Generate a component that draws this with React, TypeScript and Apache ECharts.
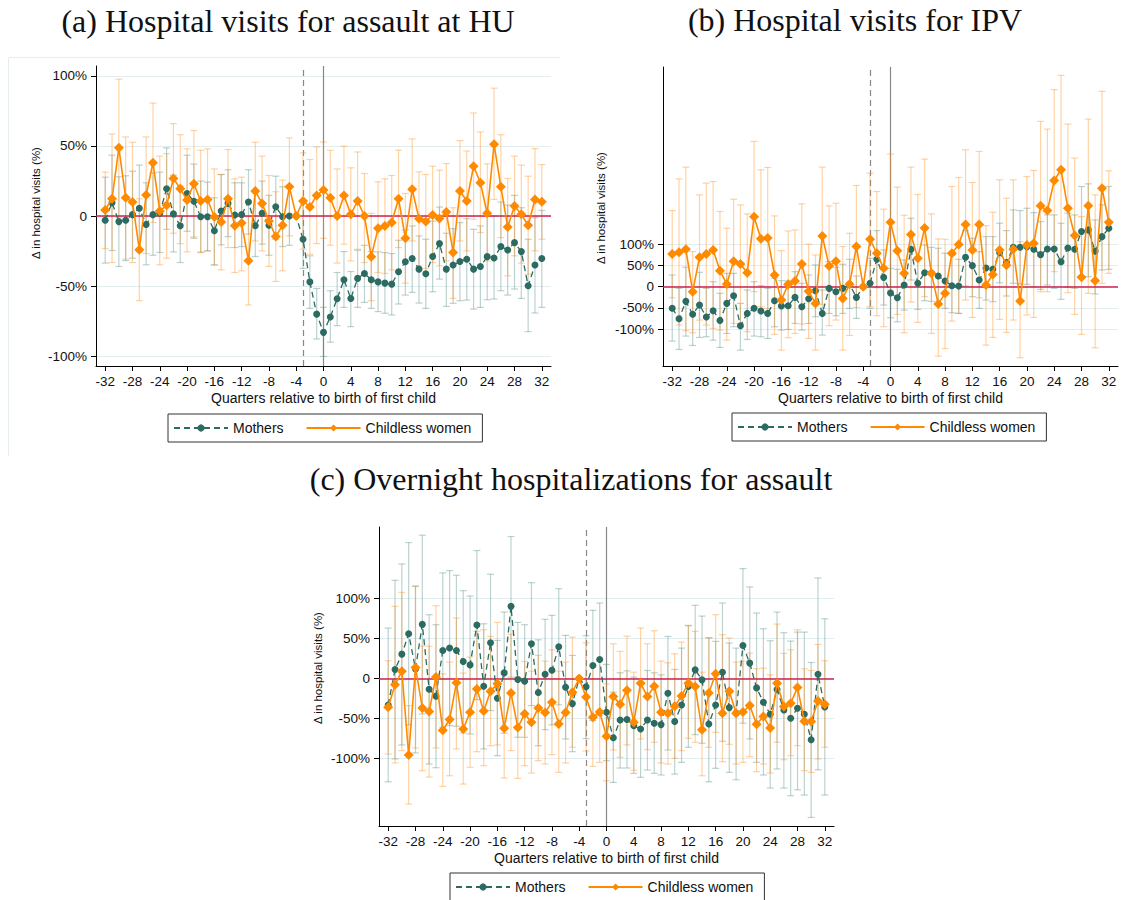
import { useEffect, useRef } from "react";
import * as echarts from "echarts";

const QUARTERS = Array.from({ length: 65 }, (_, i) => i - 32);
const X_TICKS = [-32, -28, -24, -20, -16, -12, -8, -4, 0, 4, 8, 12, 16, 20, 24, 28, 32];
const Y_TICKS = [-100, -50, 0, 50, 100];
const SERIES_NAMES = ["Mothers", "Childless women"];

// (a) Hospital visits for assault at HU
const A_MOTHERS = [-3, 9.5, -4, -3, 1, 5.5, -6, 1, 2, 19.5, 1.5, -7, 16, 10.5, -0.5, -0.5, -10.5, 3.5, 9, 0.7, 1, 10, -7, 2, -6.6, 6.6, -0.5, 0, 0, -16.6, -47, -70, -83, -72, -59, -45.5, -58.8, -44.5, -41, -45.5, -47, -47.9, -48.6, -39.8, -32.7, -30.3, -37.9, -41.2, -28.9, -19.7, -37.9, -35, -32.5, -30.8, -37.9, -36, -29, -30, -21.8, -24.2, -19, -25.4, -49.8, -35, -30.3];
const A_MOTHERS_HI = [27.7, 43.4, 28, 28.7, 32, 36.3, 23.7, 30.8, 31.3, 48.6, 29.1, 21.3, 43.4, 37, 24.9, 24.2, 13, 29.6, 33, 23.7, 23.7, 33, 16.6, 24.9, 14.7, 28.4, 20.9, 21.3, null, 9.5, -28.4, -51.7, -65.2, -53.3, -40.3, -25.4, -39.6, -24.4, -20.9, -25.4, -25.6, -26.1, -26.8, -17.3, -10, -7.1, -14.2, -16.6, -3.6, 6.4, -12.3, -9, -4.7, -1.9, -9.5, -7.1, 1.2, 0, 10, 7.8, 14.7, 5.9, -16.6, -1.2, 4];
const A_MOTHERS_LO = [-33.6, -24.6, -36, -31.8, -30.1, -25.6, -34.8, -28, -26, -9.5, -25.6, -33.2, -10.9, -15.9, -25.8, -24.9, -34.8, -20.6, -14.7, -22.5, -21.8, -13, -28.9, -20.1, -28, -16.6, -21.8, -20.9, null, -37.4, -65.9, -87.7, -100.2, -90, -78.2, -65.2, -78.9, -65.2, -61.6, -65.9, -68.2, -69.4, -70.6, -62.8, -56.4, -54.5, -62.1, -65.9, -54, -45, -64.5, -62.3, -60.4, -60, -66.4, -65.2, -59.7, -59.2, -53.3, -56.4, -52.1, -58.8, -82.5, -69.2, -65.2];
const A_CHILDLESS = [4.3, 12.3, 48.6, 13, 10, -24, 15, 38, 3.5, 7.6, 26.8, 19.4, 11.4, 23, 10.7, 11.8, -0.7, -4.3, 12.3, -7, -5, -32, 17.8, 9, -3.5, -14.7, -6.6, 20.8, 0, 10.7, 6.4, 14.7, 18.5, 13, 0, 14.7, 1.2, 10.7, 0, -29, -8.8, -7.1, -4.7, 12.3, -15.9, 19, -1.9, -4, 0.7, -1.7, 2.8, -26, 17.8, 10.7, 35.5, 23.7, 1.9, 51.2, 20.9, -7.8, 7.1, 1.2, -6.6, 11.8, 10.2];
const A_CHILDLESS_HI = [31.3, 58.5, 97.6, 56.4, 52.6, 12.3, 56.4, 80.6, 42.7, 44.5, 65.9, 58, 47.9, 60.9, 46.9, 47.9, 33.6, 29.6, 47.4, 26.5, 27.7, -0.5, 52.6, 42.7, 28.9, 17.3, 25.6, 55.7, null, 45, 40.3, 49.3, 52.8, 46.9, 33.6, 49.8, 34.4, 45.7, 30.3, 1.9, 24.4, 26.5, 28.9, 46.9, 16.1, 55, 31.5, 29.6, 35.5, 32.7, 37.4, 5.9, 53.8, 46.4, 73.5, 60, 37.2, 91.2, 58, 26.8, 42.7, 36.3, 28.4, 48.1, 36.7];
const A_CHILDLESS_LO = [-23.2, -33.2, -1, -30.8, -33.2, -60.4, -26.8, -4.6, -34.8, -30.1, -12.3, -19.7, -25.6, -14.9, -26.1, -24.9, -35.1, -38.4, -22.5, -40.3, -39.1, -63.5, -17.8, -24.9, -36, -46.7, -39.1, -14.2, null, -23.7, -27.3, -19.7, -15.9, -20.9, -33.6, -20.1, -32, -23.7, -33.2, -60.4, -40.3, -41, -38.4, -22.5, -47.9, -17.8, -35.5, -37.4, -33.2, -35.5, -32, -58.8, -17.8, -24.9, -2.4, -11.8, -32, 11.8, -15.4, -42.7, -28.4, -33.6, -41.5, -24.9, -16.6];

// (b) Hospital visits for IPV
const B_MOTHERS = [-51, -75.6, -34.6, -65, -43, -71.6, -56.7, -79.5, -39.4, -21.3, -92, -63, -51, -57.5, -63, -33, -45.7, -44.9, -25.2, -47.2, -28.3, -9.4, -63, -3.9, -11.8, -3.9, 5.5, -25.2, 0, 7.9, 64.6, 22, -15, -26, 3.9, 88, 7.9, 33, 31.5, 25.2, 13.4, 2.4, 1.6, 69.3, 49.6, 15.7, 44, 41, 80.3, 56.7, 92.9, 92.9, 94.5, 88.2, 75.6, 89, 89, 59, 91.3, 88.2, 130, 133.9, 83.5, 118, 137.8];
const B_MOTHERS_HI = [27.6, -3.9, 45.7, -15.7, 33.9, -3.9, 11.8, -15.7, 31.5, 31.5, -39.4, -7.9, 11.8, 2.4, -3.9, 19.7, 14.2, 13.4, 35.4, 7.9, 27.6, 51.2, -7.9, 59, 45.7, 52.8, 64.6, 25.2, null, 66.9, 132.3, 86.6, 43.3, 40.9, 63, 161.4, 69.3, 98.4, 92.9, 90.6, 78.7, 74.8, 64.6, 132.3, 114.2, 82.7, 118.1, 118.1, 149.6, 132.3, 181.1, 179.5, 185, 174.8, 153.5, 169.3, 169.3, 149.6, 173.2, 169.3, 236.2, 242.5, 157.5, 192.9, 236.2];
const B_MOTHERS_LO = [-128.3, -148, -116.5, -138.6, -119.7, -118.1, -126, -143.3, -110.2, -94.5, -149.6, -124.4, -116.5, -118.1, -122, -94.5, -102.4, -100.8, -86.6, -102.4, -86.6, -70.9, -114.2, -63, -68.5, -63, -51.2, -74.8, null, -51.2, -2.4, -43.3, -73.2, -82.7, -55.1, 15.7, -53.5, -33.1, -34.6, -40.9, -51.2, -61.4, -63, 1.6, -23.6, -51.2, -31.5, -35.4, 9.4, -22, 7.9, 6.3, 5.5, 0, -6.3, 3.9, -3.9, -29.9, -1.6, -3.9, 25.2, 23.6, -17.3, 39.4, 40.9];
const B_CHILDLESS = [77, 81, 88, -11.8, 69.3, 77, 86.6, 37.8, 6.3, 59.8, 53.5, 33, 165, 113, 115, 27.6, -31.5, 5.5, 13.4, 53.5, -11, -39.4, 119.7, 48.8, 59.8, -27.6, 5.5, 94.5, 0, 111.8, 78.7, 43.3, 152, 85, 31.5, 122.8, 67, 138.6, 31.5, -41, -15.7, 78.7, 99.2, 146.5, 86.6, 146.5, 3.9, 29, 86.6, 50.4, 88.2, -33.9, 98.4, 102.4, 190.6, 179.5, 250.4, 275.6, 185, 120.5, 22, 190.6, 14.2, 232.3, 152];
const B_CHILDLESS_HI = [179.5, 254.3, 281.9, 82.7, 216.5, 244.1, 248, 177.2, 137.8, 206.3, 192.9, 171.7, 342.5, 275.6, 281.1, 166.9, 85, 131.5, 133.9, 195.3, 100, 74.8, 281.9, 190.6, 196.9, 94.5, 126, 238.6, null, 267.7, 224.4, 182.7, 312.6, 234.6, 168.5, 281.9, 217.3, 300.8, 171.7, 112.6, 111.8, 236.2, 257.5, 322.8, 245.7, 318.9, 144.1, 175.6, 252, 208.7, 252, 106.3, 259.8, 274, 389.8, 371.7, 464.6, 498.4, 383.5, 303.1, 165.4, 395.3, 216.5, 460.6, 273.2];
const B_CHILDLESS_LO = [-26, -90.6, -103.9, -108.7, -78.7, -90.6, -98.4, -102.4, -126, -86.6, -86.6, -106.3, -11.8, -47.2, -51.2, -112.6, -149.6, -120.5, -110.2, -88.2, -122, -149.6, -41.7, -92.1, -78.7, -149.6, -115, -48.8, null, -47.2, -68.5, -94.5, -7.9, -65.4, -108.7, -36.2, -84.3, -23.6, -110.2, -163.8, -145.7, -81.1, -63, -31.5, -72.4, -26, -137.8, -119.7, -77.2, -107.9, -78.7, -167.7, -66.9, -72.4, -11.8, -11.8, 35.4, 53.5, -14.2, -65.4, -112.6, -15.7, -144.1, 7.9, 31.5];

// (c) Overnight hospitalizations for assault
const C_MOTHERS = [-33, 11.2, 30.4, 55.8, 12, 67.5, -13.3, -22, 35, 38, 35, 21.2, 17, 66.7, -9.6, 44.6, -24.6, 7, 90, -1.2, -3.3, 43.3, -17.5, 5.4, 10.4, 39.6, -10.8, -31.3, 0, -10.4, 16.2, 23.7, -42, -74, -51.7, -51.2, -58.8, -63, -51.7, -55.8, -57.5, -18.3, -53.7, -33, -10, 10.8, -1.7, -56.7, -33, 7.9, -36.3, -43, 41.2, 19.2, -11.7, -29.6, -44.6, -13.8, -39.2, -49.6, -37, -44.6, -76.3, 5.4, -35.4];
const C_MOTHERS_HI = [62.9, 122.5, 142.9, 169.6, 115, 178.8, 79.6, 67.1, 131.7, 134.6, 128.8, 109.6, 102.9, 159.6, 68.3, 130, 47.5, 82.9, 177.1, 70, 67.1, 119.6, 48.3, 73.8, 78.8, 112.1, 53.8, 28.8, null, 53.3, 85, 94.2, 17.5, -17.1, 7.1, 9.6, 1.7, -6.7, 10, 7.1, 4.6, 52.5, 11.3, 37.9, 66.3, 91.3, 77.9, 50.8, 46.3, 94.2, 44.2, 37.9, 137.1, 114.2, 81.7, 62.1, 47.1, 82.9, 57.1, 46.7, 57.9, 57.9, 20, 125.4, 74.6];
const C_MOTHERS_LO = [-128.8, -100.4, -82.9, -57.9, -92.9, -44.2, -106.7, -111.3, -60.8, -58.8, -59.6, -67.9, -69.2, -26.3, -87.9, -40, -96.3, -68.3, 1.7, -73.3, -73.3, -33.8, -83.8, -63.8, -57.9, -32.9, -75.4, -91.3, null, -75, -52.5, -46.3, -102.5, -129.6, -111.7, -111.7, -118.3, -123.3, -114.2, -118.3, -120.4, -89.2, -119.2, -104.6, -85.8, -70, -80.8, -128.8, -112.1, -78.3, -117.1, -126.3, -55.8, -75.4, -104.6, -120.4, -136.7, -112.9, -136.7, -146.3, -138.8, -145.4, -173.3, -113.8, -145.4];
const C_CHILDLESS = [-35.8, -7.9, 9.2, -95.4, 13.8, -36.7, -41.2, 2, -64.6, -51.2, -5.4, -63, -42, -13, -40.4, -15.8, -6.7, -62, -18, -61.2, -44, -54.6, -36.7, -42.5, -29.6, -56.7, -42.5, -17, 0, -23, -48.3, -41.7, -72, -22.5, -32, -14.6, -54.6, -5.8, -22.5, -9.6, -42, -43.3, -34.6, -21.7, -5.8, -10, -64, -18, 5.8, -43.3, -15.8, -43.3, -41.7, -33.7, -57, -47.5, -61.7, -5.8, -35, -30.8, -11.2, -53.3, -53.7, -28, -32];
const C_CHILDLESS_HI = [22.1, 90, 107.5, -33.8, 115.4, 40.4, 40.4, 90.8, 5.8, 20.4, 75.4, 6.7, 26.7, 58.8, 60.8, 52.5, 70, 8.8, 55, 1.7, 21.3, 9.2, 28.8, 21.7, 35.8, 9.2, 20.4, 51.7, null, 44.6, 15, 23.3, -6.7, 43.3, 33.8, 52.9, 7.9, 62.9, 43.3, 59.6, 21.7, 19.6, 30.8, 45.4, 65.4, 58.8, 7.9, 50.8, 79.6, 54.6, 50.4, 20.4, 21.7, 31.7, 12.1, 12.9, 4.6, 67.9, 31.3, 35.8, 60.8, 12.1, 10, 42.5, 22.1];
const C_CHILDLESS_LO = [-94.2, -105.4, -90, -156.7, -86.7, -115, -122.9, -86.7, -134.6, -121.3, -87.9, -131.7, -110.8, -91.3, -108.8, -83.8, -82.9, -124.2, -90, -124.6, -108.8, -117.9, -102.5, -106.7, -95, -117.1, -105.4, -85.8, null, -90.4, -109.6, -104.6, -127.5, -89.2, -98.3, -82.9, -114.6, -75.4, -88.8, -79.6, -105.4, -106.7, -99.6, -90, -74.6, -79.6, -121.3, -85.8, -67.1, -103.8, -82.1, -106.7, -104.6, -97.5, -116.3, -106.7, -117.9, -79.6, -101.3, -96.3, -83.8, -115, -117.1, -100.4, -85.8];

const TEAL = "#2b6b61";
const ORANGE = "#ff8a00";
const TEAL_CI = "rgba(80,140,132,0.38)";
const ORANGE_CI = "rgba(255,140,20,0.38)";
const SANS = "'Liberation Sans', Arial, sans-serif";
const SERIF = "'Liberation Serif', 'DejaVu Serif', serif";
const Y_NAME = "Δ in hospital visits (%)";

const PANELS = [
  {
    title: "(a) Hospital visits for assault at HU",
    titleX: 288, titleY: 21,
    yNameX: 36, yNameY: 203,
    grid: { left: 96, top: 66, width: 455, height: 300 },
    yMin: -107, yMax: 107,
    legend: { left: 168, top: 414 },
    mothers: [A_MOTHERS, A_MOTHERS_LO, A_MOTHERS_HI],
    childless: [A_CHILDLESS, A_CHILDLESS_LO, A_CHILDLESS_HI],
  },
  {
    title: "(b) Hospital visits for IPV",
    titleX: 855, titleY: 20,
    yNameX: 601, yNameY: 208,
    grid: { left: 663, top: 67, width: 455, height: 299 },
    yMin: -187, yMax: 518,
    legend: { left: 732, top: 413 },
    mothers: [B_MOTHERS, B_MOTHERS_LO, B_MOTHERS_HI],
    childless: [B_CHILDLESS, B_CHILDLESS_LO, B_CHILDLESS_HI],
  },
  {
    title: "(c) Overnight hospitalizations for assault",
    titleX: 571, titleY: 479,
    yNameX: 318, yNameY: 668,
    grid: { left: 379, top: 527, width: 455, height: 299 },
    yMin: -184, yMax: 189,
    legend: { left: 450, top: 873 },
    mothers: [C_MOTHERS, C_MOTHERS_LO, C_MOTHERS_HI],
    childless: [C_CHILDLESS, C_CHILDLESS_LO, C_CHILDLESS_HI],
  },
];

function ciSeries(idx: number, lo: (number | null)[], hi: (number | null)[], color: string, z: number, markLine?: any) {
  return {
    type: "custom",
    xAxisIndex: idx,
    yAxisIndex: idx,
    z,
    silent: true,
    encode: { x: 0, y: [1, 2] },
    data: QUARTERS.map((q, i) => (lo[i] == null ? null : [q, lo[i], hi[i]])).filter(Boolean),
    renderItem: (_params: any, api: any) => {
      const x = api.value(0);
      const a = api.coord([x, api.value(1)]);
      const b = api.coord([x, api.value(2)]);
      const w = 3.5;
      const style = { stroke: color, lineWidth: 1.2 };
      return {
        type: "group",
        children: [
          { type: "line", shape: { x1: a[0], y1: a[1], x2: b[0], y2: b[1] }, style },
          { type: "line", shape: { x1: a[0] - w, y1: a[1], x2: a[0] + w, y2: a[1] }, style },
          { type: "line", shape: { x1: b[0] - w, y1: b[1], x2: b[0] + w, y2: b[1] }, style },
        ],
      };
    },
    markLine,
  };
}

export default function App() {
  const chartRef = useRef<HTMLDivElement>(null);

  useEffect(() => {
    if (!chartRef.current) return;
    const chart = echarts.init(chartRef.current, null, { renderer: "svg" });

    const series: any[] = [];
    PANELS.forEach((p, idx) => {
      series.push(
        ciSeries(idx, p.mothers[1], p.mothers[2], TEAL_CI, 1, {
          silent: true,
          symbol: ["none", "none"],
          label: { show: false },
          z: 1,
          data: [
            { xAxis: -3, lineStyle: { color: "#888", width: 1.2, type: [6, 4] } },
            { xAxis: 0, lineStyle: { color: "#888", width: 1.2, type: "solid" } },
          ],
        })
      );
      series.push(
        ciSeries(idx, p.childless[1], p.childless[2], ORANGE_CI, 2, {
          silent: true,
          symbol: ["none", "none"],
          label: { show: false },
          z: 3,
          data: [{ yAxis: 0, lineStyle: { color: "#d21f4c", width: 1.6, type: "solid" } }],
        })
      );
      series.push({
        type: "line",
        name: SERIES_NAMES[0],
        xAxisIndex: idx,
        yAxisIndex: idx,
        z: 4,
        data: QUARTERS.map((q, i) => [q, p.mothers[0][i]]),
        symbol: "circle",
        symbolSize: 7,
        lineStyle: { color: TEAL, width: 1.3, type: [6, 4] },
        itemStyle: { color: TEAL },
      });
      series.push({
        type: "line",
        name: SERIES_NAMES[1],
        xAxisIndex: idx,
        yAxisIndex: idx,
        z: 5,
        data: QUARTERS.map((q, i) => [q, p.childless[0][i]]),
        symbol: "diamond",
        symbolSize: 10,
        lineStyle: { color: ORANGE, width: 1.6 },
        itemStyle: { color: ORANGE },
      });
    });

    chart.setOption({
      animation: false,
      backgroundColor: "#fff",
      grid: PANELS.map((p) => ({ ...p.grid, containLabel: false, outerBoundsMode: "none" })),
      xAxis: PANELS.map((_p, idx) => ({
        type: "value",
        gridIndex: idx,
        min: -33.35,
        max: 33.35,
        name: "Quarters relative to birth of first child",
        nameLocation: "middle",
        nameGap: 25,
        nameTextStyle: { color: "#111", fontSize: 14, fontFamily: SANS },
        axisLine: { onZero: false, lineStyle: { color: "#000", width: 1 } },
        axisTick: { length: 5, customValues: X_TICKS, lineStyle: { color: "#000" } },
        axisLabel: { customValues: X_TICKS, margin: 8, color: "#111", fontSize: 13.5, fontFamily: SANS },
        splitLine: { show: false },
      })),
      yAxis: PANELS.map((p, idx) => ({
        type: "value",
        gridIndex: idx,
        min: p.yMin,
        max: p.yMax,
        axisLine: { onZero: false, show: true, lineStyle: { color: "#000", width: 1 } },
        axisTick: { show: true, length: 5, customValues: Y_TICKS, lineStyle: { color: "#000" } },
        axisLabel: {
          customValues: Y_TICKS,
          margin: 9,
          color: "#111",
          fontSize: 13.5,
          fontFamily: SANS,
          formatter: (v: number) => (v === 0 ? "0" : `${v}%`),
        },
        splitLine: { show: true, lineStyle: { color: "#e2edf0", width: 1 } },
      })),
      legend: PANELS.map((p) => ({
        ...p.legend,
        data: SERIES_NAMES,
        orient: "horizontal",
        itemGap: 22,
        itemWidth: 54,
        itemHeight: 9,
        padding: [7, 11, 7, 5],
        borderColor: "#333",
        borderWidth: 1,
        selectedMode: false,
        textStyle: { color: "#111", fontSize: 14, fontFamily: SANS },
      })),
      graphic: [
        { type: "line", shape: { x1: 8.5, y1: 57.5, x2: 560, y2: 57.5 }, style: { stroke: "#e6eef2", lineWidth: 1 }, silent: true },
        { type: "line", shape: { x1: 8.5, y1: 57.5, x2: 8.5, y2: 456 }, style: { stroke: "#e6eef2", lineWidth: 1 }, silent: true },
        ...PANELS.map((p) => ({
          type: "text",
          x: p.titleX,
          y: p.titleY,
          silent: true,
          style: {
            text: p.title,
            fontSize: 32,
            fontFamily: SERIF,
            fill: "#111",
            textAlign: "center",
            align: "center",
            textVerticalAlign: "middle",
            verticalAlign: "middle",
          },
        })),
        ...PANELS.map((p) => ({
          type: "text",
          x: p.yNameX,
          y: p.yNameY,
          rotation: Math.PI / 2,
          silent: true,
          style: {
            text: Y_NAME,
            fontSize: 11.5,
            fontFamily: SANS,
            fill: "#111",
            textAlign: "center",
            align: "center",
            textVerticalAlign: "middle",
            verticalAlign: "middle",
          },
        })),
      ],
      series,
    });

    return () => {
      chart.dispose();
    };
  }, []);

  return (
    <div
      ref={chartRef}
      style={{ position: "absolute", left: 0, top: 0, width: 1121, height: 900, background: "#fff" }}
    />
  );
}
